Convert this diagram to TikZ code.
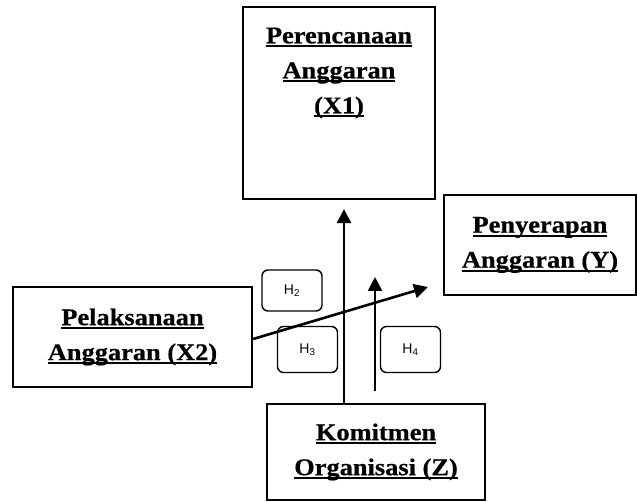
\documentclass[tikz,border=0pt]{standalone}
\usepackage{fontspec}
\setmainfont{Liberation Serif}[FakeStretch=1.1,BoldFeatures={FakeBold=0.6}]
\newfontfamily\hfont{Liberation Sans}
\usetikzlibrary{arrows.meta}
\newcommand{\ulline}[1]{\setbox0\hbox{#1}\rlap{\rule[-4pt]{\wd0}{2pt}}\box0}

\begin{document}
\begin{tikzpicture}
    [
    x=1pt,y=-1pt,
    box/.style={rectangle,draw,line width=2.2pt,inner sep=0pt},
    title/.style={font=\fontsize{24}{35}\selectfont\bfseries,align=center,inner sep=0pt},
    hbox/.style={rectangle,rounded corners=6pt,draw,line width=1.4pt,minimum width=60pt,minimum height=46pt,font=\hfont\fontsize{14}{16}\selectfont},
    arr/.style={line width=2.6pt,-{Triangle[length=14pt,width=14pt]}}
    ]
    \useasboundingbox (0,0) rectangle (637,502);
    \node (x1) at (339,103) [box,minimum width=192pt,minimum height=192pt] {};
    \node (x1t) at (339,73) [title] {\ulline{Perencanaan}\\ \ulline{Anggaran}\\ \ulline{(X1)}};
    \node (x2) at (132.5,337) [box,minimum width=239pt,minimum height=100pt,title] {\ulline{Pelaksanaan}\\ \ulline{Anggaran (X2)}};
    \node (y) at (540,245) [box,minimum width=192pt,minimum height=100pt,title] {\ulline{Penyerapan}\\ \ulline{Anggaran (Y)}};
    \node (z) at (376,452) [box,minimum width=218pt,minimum height=96pt,title] {\ulline{Komitmen}\\ \ulline{Organisasi (Z)}};
    \node (h2) at (292,290.5) [hbox,minimum height=41pt] {H\textsubscript{2}};
    \node (h3) at (307.5,349.5) [hbox] {H\textsubscript{3}};
    \node (h4) at (410.5,349.5) [hbox] {H\textsubscript{4}};
    \coordinate (h4s) at (375,391);
    \coordinate (h4e) at (375,277);
    \coordinate (yin) at (428,287);
    \draw [arr] ([xshift=-32pt]z.north) to ([xshift=5pt,yshift=-9pt]x1.south);
    \draw [arr] (h4s) to (h4e);
    \draw [arr] ([yshift=-2pt]x2.east) to (yin);
\end{tikzpicture}
\end{document}
